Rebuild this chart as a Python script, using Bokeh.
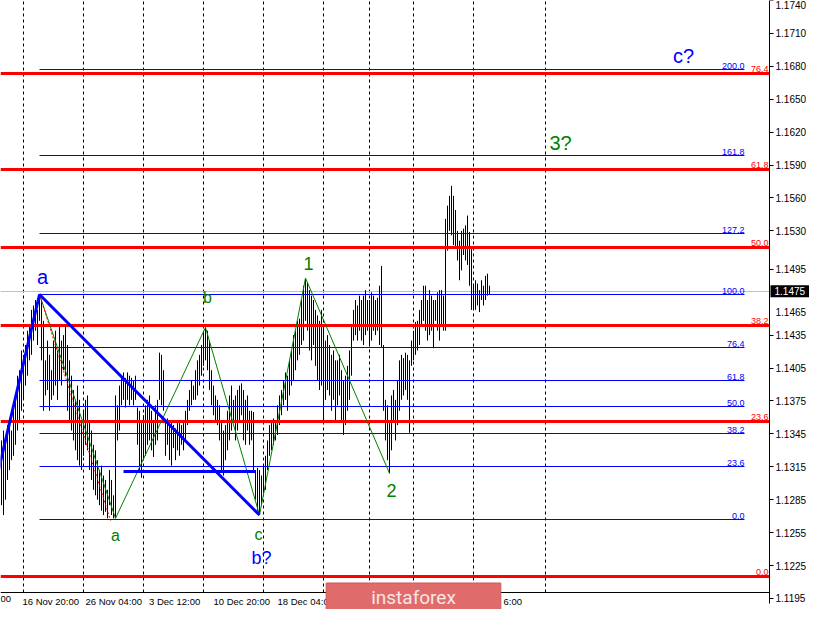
from bokeh.plotting import figure
from bokeh.models import (Range1d, LinearAxis, FixedTicker, NumeralTickFormatter,
                          Label, ColumnDataSource)
from bokeh.core.properties import value
from bokeh.embed import file_html
from bokeh.resources import INLINE

# ---------------- data ----------------
highs = [
    1.1339, 1.1348, 1.1335, 1.1353, 1.1357, 1.1348, 1.1366, 1.1376, 1.1398, 1.1403,
    1.1421, 1.1417, 1.1426, 1.1439, 1.1444, 1.1458, 1.1462, 1.1467, 1.1458, 1.1472,
    1.1467, 1.1448, 1.1412, 1.1430, 1.1417, 1.1403, 1.1430, 1.1439, 1.1421, 1.1444,
    1.1430, 1.1435, 1.1444, 1.1426, 1.1412, 1.1398, 1.1385, 1.1376, 1.1389, 1.1376,
    1.1357, 1.1366, 1.1376, 1.1380, 1.1357, 1.1348, 1.1335, 1.1330, 1.1321, 1.1312,
    1.1316, 1.1307, 1.1303, 1.1294, 1.1312, 1.1303, 1.1289, 1.1380, 1.1371, 1.1389,
    1.1398, 1.1401, 1.1396, 1.1401, 1.1398, 1.1396, 1.1394, 1.1398, 1.1369, 1.1366,
    1.1357, 1.1362, 1.1371, 1.1376, 1.1380, 1.1366, 1.1357, 1.1371, 1.1376, 1.1419,
    1.1417, 1.1403, 1.1357, 1.1359, 1.1353, 1.1357, 1.1353, 1.1350, 1.1357, 1.1356,
    1.1353, 1.1357, 1.1366, 1.1376, 1.1385, 1.1394, 1.1389, 1.1403, 1.1412, 1.1417,
    1.1426, 1.1439, 1.1442, 1.1439, 1.1430, 1.1403, 1.1389, 1.1380, 1.1376, 1.1371,
    1.1357, 1.1348, 1.1353, 1.1366, 1.1380, 1.1389, 1.1376, 1.1380, 1.1385, 1.1389,
    1.1391, 1.1385, 1.1376, 1.1380, 1.1366, 1.1366, 1.1365, 1.1312, 1.1314, 1.1312,
    1.1307, 1.1316, 1.1325, 1.1339, 1.1353, 1.1357, 1.1359, 1.1357, 1.1371, 1.1380,
    1.1385, 1.1394, 1.1401, 1.1398, 1.1412, 1.1421, 1.1435, 1.1439, 1.1448, 1.1450,
    1.1467, 1.1480, 1.1487, 1.1483, 1.1476, 1.1471, 1.1467, 1.1458, 1.1453, 1.1448,
    1.1458, 1.1444, 1.1430, 1.1435, 1.1426, 1.1417, 1.1421, 1.1412, 1.1412, 1.1417,
    1.1403, 1.1394, 1.1398, 1.1407, 1.1421, 1.1444, 1.1458, 1.1467, 1.1462, 1.1471,
    1.1467, 1.1471, 1.1476, 1.1467, 1.1467, 1.1474, 1.1471, 1.1467, 1.1469, 1.1480,
    1.1498, 1.1426, 1.1376, 1.1371, 1.1357, 1.1380, 1.1385, 1.1376, 1.1394, 1.1412,
    1.1417, 1.1414, 1.1419, 1.1417, 1.1412, 1.1430, 1.1439, 1.1447, 1.1448, 1.1458,
    1.1467, 1.1480, 1.1480, 1.1467, 1.1476, 1.1471, 1.1467, 1.1467, 1.1474, 1.1476,
    1.1476, 1.1471, 1.1541, 1.1553, 1.1562, 1.1571, 1.1562, 1.1549, 1.1530, 1.1521,
    1.1530, 1.1532, 1.1535, 1.1544, 1.1529, 1.1514, 1.1480, 1.1485, 1.1482, 1.1476,
    1.1485, 1.1480, 1.1489, 1.1491, 1.1480,
]
lows = [
    1.1280, 1.1271, 1.1285, 1.1303, 1.1312, 1.1321, 1.1325, 1.1335, 1.1348, 1.1357,
    1.1366, 1.1376, 1.1389, 1.1398, 1.1412, 1.1417, 1.1430, 1.1439, 1.1426, 1.1448,
    1.1412, 1.1366, 1.1380, 1.1385, 1.1366, 1.1376, 1.1380, 1.1389, 1.1376, 1.1394,
    1.1389, 1.1403, 1.1398, 1.1366, 1.1357, 1.1348, 1.1339, 1.1330, 1.1321, 1.1316,
    1.1312, 1.1325, 1.1335, 1.1330, 1.1312, 1.1303, 1.1294, 1.1289, 1.1285, 1.1280,
    1.1275, 1.1271, 1.1274, 1.1268, 1.1280, 1.1271, 1.1268, 1.1268, 1.1339, 1.1348,
    1.1371, 1.1376, 1.1369, 1.1376, 1.1371, 1.1376, 1.1371, 1.1376, 1.1335, 1.1312,
    1.1305, 1.1321, 1.1325, 1.1335, 1.1339, 1.1330, 1.1324, 1.1335, 1.1339, 1.1376,
    1.1371, 1.1366, 1.1325, 1.1335, 1.1321, 1.1316, 1.1332, 1.1321, 1.1330, 1.1325,
    1.1335, 1.1330, 1.1339, 1.1353, 1.1366, 1.1371, 1.1376, 1.1376, 1.1380, 1.1389,
    1.1398, 1.1407, 1.1412, 1.1403, 1.1385, 1.1371, 1.1362, 1.1357, 1.1353, 1.1339,
    1.1312, 1.1307, 1.1321, 1.1330, 1.1339, 1.1348, 1.1357, 1.1339, 1.1348, 1.1357,
    1.1362, 1.1339, 1.1335, 1.1348, 1.1335, 1.1339, 1.1312, 1.1285, 1.1275, 1.1271,
    1.1280, 1.1289, 1.1294, 1.1312, 1.1325, 1.1330, 1.1335, 1.1339, 1.1344, 1.1353,
    1.1362, 1.1371, 1.1376, 1.1366, 1.1380, 1.1389, 1.1394, 1.1403, 1.1412, 1.1417,
    1.1426, 1.1430, 1.1448, 1.1439, 1.1421, 1.1412, 1.1426, 1.1407, 1.1394, 1.1385,
    1.1389, 1.1357, 1.1376, 1.1385, 1.1380, 1.1366, 1.1376, 1.1357, 1.1371, 1.1380,
    1.1357, 1.1344, 1.1353, 1.1366, 1.1376, 1.1398, 1.1430, 1.1435, 1.1430, 1.1439,
    1.1430, 1.1426, 1.1435, 1.1439, 1.1426, 1.1430, 1.1439, 1.1435, 1.1439, 1.1426,
    1.1424, 1.1366, 1.1339, 1.1321, 1.1309, 1.1330, 1.1357, 1.1339, 1.1353, 1.1366,
    1.1376, 1.1380, 1.1385, 1.1376, 1.1346, 1.1407, 1.1412, 1.1417, 1.1421, 1.1426,
    1.1444, 1.1448, 1.1439, 1.1430, 1.1435, 1.1439, 1.1423, 1.1448, 1.1439, 1.1430,
    1.1444, 1.1439, 1.1439, 1.1512, 1.1530, 1.1526, 1.1517, 1.1514, 1.1503, 1.1485,
    1.1494, 1.1508, 1.1503, 1.1499, 1.1480, 1.1458, 1.1459, 1.1458, 1.1462, 1.1456,
    1.1467, 1.1462, 1.1467, 1.1471, 1.1472,
]
last_price = 1.1475

price_ticks = [1.1195, 1.1225, 1.1255, 1.1285, 1.1315, 1.1345, 1.1375, 1.1405,
               1.1435, 1.1465, 1.1495, 1.1530, 1.1560, 1.1590, 1.1620, 1.1650,
               1.1680, 1.1710, 1.1740]
displaced_tick = 1.1465

time_tick_bars = [10.5, 42, 73.75, 106, 138]
time_labels = ["16 Nov 20:00", "26 Nov 04:00", "3 Dec 12:00", "10 Dec 20:00", "18 Dec 04:00"]
tail_label_bar = 251
tail_label = "6:00"
head_label = "00"
vgrid_bars = [11, 41, 71, 101, 131, 161, 184, 206, 236, 272]

# Fibonacci grids
fib_small_low, fib_small_high, fib_small_start = 1.1267, 1.1472, 19
fib_small_ratios = [0.0, 23.6, 38.2, 50.0, 61.8, 76.4, 100.0, 127.2, 161.8, 200.0]
fib_big_low, fib_big_high = 1.1215, 1.1815
fib_big_ratios = [0.0, 23.6, 38.2, 50.0, 61.8, 76.4]

# wave drawings
blue_wave_x = [-3, 19, 129]
blue_wave_y = [1.1300, 1.1472, 1.1271]
blue_flat_x = [61, 127]
blue_flat_y = [1.1311, 1.1311]
green_zz_x = [19, 57, 102, 129, 152, 194]
green_zz_y = [1.1472, 1.1268, 1.1442, 1.1271, 1.1487, 1.1309]
red_dot_x = [19, 54.5]
red_dot_y = [1.1472, 1.1266]

wave_text = ["a", "b", "1", "a", "c", "b?", "2", "3?", "c?"]
wave_x = [20.5, 103, 153.5, 57, 128.5, 130, 195, 279.5, 341]
wave_y = [1.1488, 1.1469, 1.1500, 1.1252, 1.1253, 1.1232, 1.1293, 1.1610, 1.1689]
wave_color = ["#0000ff", "#008000", "#008000", "#008000", "#008000", "#0000ff",
              "#008000", "#008000", "#0000ff"]
wave_size = ["20px", "16px", "18px", "16px", "16px", "18px", "18px", "20px", "20px"]

# ---------------- layout constants ----------------
FONT = "Liberation Sans"
W, H = 809, 609
AXIS_PX_X, AXIS_PX_Y = 769, 592          # where the two axes sit inside the canvas
PX_PER_BAR = 2.0
PX_PER_PRICE = 10971.0
X_START = -0.5
X_AXIS = X_START + AXIS_PX_X / PX_PER_BAR
X_END = X_START + W / PX_PER_BAR
Y_TOP = 1.1740
Y_AXIS = Y_TOP - AXIS_PX_Y / PX_PER_PRICE
Y_BOTTOM = Y_TOP - H / PX_PER_PRICE
Y_AXIS_LOW = Y_TOP - 603 / PX_PER_PRICE


def crisp(v):
    """Snap a horizontal line to a whole pixel row so it is drawn sharply."""
    return Y_TOP - round((Y_TOP - v) * PX_PER_PRICE) / PX_PER_PRICE


p = figure(width=W, height=H, output_backend="svg", toolbar_location=None,
           x_range=Range1d(X_START, X_END), y_range=Range1d(Y_BOTTOM, Y_TOP),
           x_axis_location=None, y_axis_location=None, min_border=0,
           outline_line_color=None, background_fill_color="white",
           border_fill_color="white")
p.grid.visible = False

# right price axis (fixed inside the canvas so overlays can cover the margins)
ya = LinearAxis(fixed_location=X_AXIS, bounds=(Y_AXIS_LOW, Y_TOP),
                ticker=FixedTicker(ticks=[t for t in price_ticks if t != displaced_tick]),
                formatter=NumeralTickFormatter(format="0.0000"),
                major_label_text_font=FONT, major_label_text_font_size="10px",
                major_label_text_color="black", major_tick_out=4, major_tick_in=0,
                minor_tick_line_color=None, major_label_standoff=2,
                axis_line_color="black")
p.add_layout(ya, "right")

# bottom time axis with labels starting at their time mark
def text_w(s, px):
    wid = {" ": .278, ":": .278, "N": .722, "D": .722, "o": .556, "v": .5, "e": .556, "c": .5}
    return sum(wid.get(ch, .556) for ch in s) * px

lab_px = 9.5
centers = [t + text_w(s, lab_px) / (2 * PX_PER_BAR) for t, s in zip(time_tick_bars, time_labels)]
tail_center = tail_label_bar + text_w(tail_label, lab_px) / (2 * PX_PER_BAR)
overrides = {c: s for c, s in zip(centers, time_labels)}
overrides[tail_center] = tail_label
xa = LinearAxis(fixed_location=Y_AXIS, bounds=(X_START, X_AXIS),
                ticker=FixedTicker(ticks=centers + [tail_center]),
                major_label_overrides=overrides,
                major_tick_line_color=None, major_tick_out=0, major_tick_in=0,
                minor_tick_line_color=None, axis_line_color="black",
                major_label_standoff=3, major_label_text_font=FONT,
                major_label_text_font_size="9.5px", major_label_text_color="black")
p.add_layout(xa, "below")
# tail of a date label cut by the left edge
p.add_layout(Label(x=X_START, y=Y_AXIS, y_offset=-3, text=head_label, text_align="left",
                   text_baseline="top", text_color="black", text_font=FONT,
                   text_font_size="9.5px"))

# vertical dashed grid and current price line
p.segment(x0=vgrid_bars, x1=vgrid_bars, y0=[Y_AXIS] * len(vgrid_bars),
          y1=[Y_TOP] * len(vgrid_bars), line_color="black", line_dash="3 3", line_width=1)
p.segment(x0=[X_START], x1=[X_AXIS], y0=[crisp(last_price)], y1=[crisp(last_price)],
          line_color="#c0c0c0", line_width=1)

# price bars
idx = list(range(min(len(highs), len(lows))))
p.segment(x0=idx, y0=lows[:len(idx)], x1=idx, y1=highs[:len(idx)],
          line_color="black", line_width=1)

# small fib grid (blue)
fs_levels = [crisp(fib_small_low + r / 100 * (fib_small_high - fib_small_low))
             for r in fib_small_ratios]
fs_end = X_AXIS - 12.5
p.segment(x0=[fib_small_start] * len(fs_levels), x1=[fs_end] * len(fs_levels),
          y0=fs_levels, y1=fs_levels, line_color="#0000ff", line_width=1)
p.text(x=[fs_end] * len(fs_levels), y=fs_levels, text=["%.1f" % r for r in fib_small_ratios],
       text_align="right", text_baseline="bottom", text_color="#0000ff",
       text_font=value(FONT), text_font_size="9px", y_offset=-1)

# big fib grid (red)
fb_levels = [crisp(fib_big_low + r / 100 * (fib_big_high - fib_big_low))
             for r in fib_big_ratios]
p.segment(x0=[X_START] * len(fb_levels), x1=[X_AXIS] * len(fb_levels),
          y0=fb_levels, y1=fb_levels, line_color="#ff0000", line_width=3)
p.text(x=[X_AXIS - 0.5] * len(fb_levels), y=fb_levels, text=["%.1f" % r for r in fib_big_ratios],
       text_align="right", text_baseline="bottom", text_color="#ff0000",
       text_font=value(FONT), text_font_size="9px", y_offset=-2)

# wave markup
p.line(green_zz_x, green_zz_y, line_color="#008000", line_width=1)
p.line(red_dot_x, red_dot_y, line_color="#ff0000", line_width=1, line_dash="2 2")
p.line(blue_wave_x, blue_wave_y, line_color="#0000ff", line_width=3)
p.line(blue_flat_x, [crisp(v) for v in blue_flat_y], line_color="#0000ff", line_width=3)

src = ColumnDataSource(dict(x=wave_x, y=wave_y, text=wave_text, color=wave_color, size=wave_size))
p.text(x="x", y="y", text="text", source=src, text_color="color", text_font_size="size",
       text_align="center", text_baseline="middle", text_font=value(FONT))

# current price box on the axis
p.add_layout(Label(x=X_AXIS, y=last_price, x_offset=1, text="%.4f" % last_price,
                   text_align="left", text_baseline="middle", text_color="white",
                   text_font=FONT, text_font_size="10px",
                   background_fill_color="black",
                   padding=dict(left=4, right=6, top=2, bottom=2), level="overlay"))
# tick label pushed down by the price box
p.add_layout(Label(x=X_AXIS, y=displaced_tick, x_offset=6, y_offset=-10,
                   text="%.4f" % displaced_tick,
                   text_align="left", text_baseline="middle", text_color="black",
                   text_font=FONT, text_font_size="10px", level="overlay"))

# watermark logo
p.add_layout(Label(x=206, y=Y_TOP - 597 / PX_PER_PRICE, text="instaforex", text_align="center",
                   text_baseline="middle", text_color="#f8e6e6", text_font="Roboto",
                   text_font_size="19px", background_fill_color="#e06b6b",
                   border_line_color="#c95c5c",
                   padding=dict(left=45, right=45, top=3, bottom=3), level="overlay"))

open("out.html", "w").write(file_html(p, INLINE))
